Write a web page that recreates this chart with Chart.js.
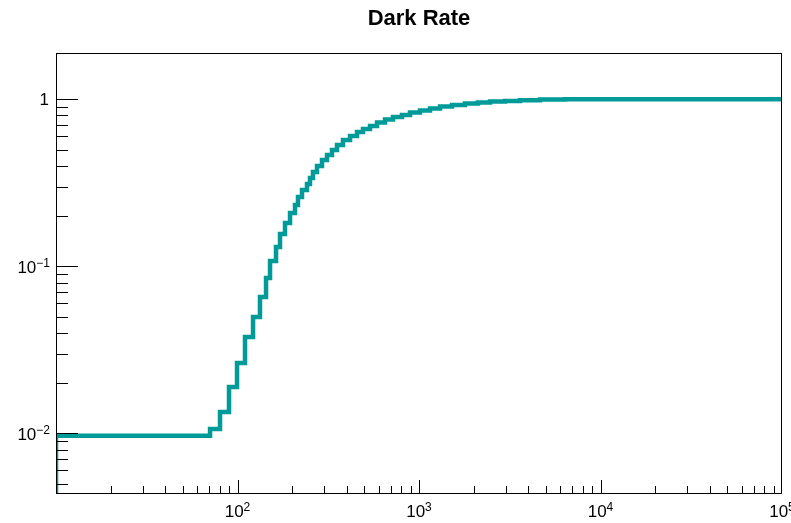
<!DOCTYPE html>
<html>
<head>
<meta charset="utf-8">
<title>Dark Rate</title>
<script src="https://cdn.jsdelivr.net/npm/chart.js@4/dist/chart.umd.min.js"></script>
<style>
    html, body { margin: 0; padding: 0; background: #ffffff; }
    #wrap { width: 791px; height: 523px; }
</style>
</head>
<body>
<div id="wrap">
    <canvas id="darkRateChart" width="791" height="523"></canvas>
</div>
<script>

//Title
const chartTitle = "Dark Rate";

//Histogram bins (lower edge of each bin) and content
const binLow = [
    10, 70.6, 80.1, 89.8, 99.4, 110, 121.8, 133, 143.6, 151.1,
    163, 171.5, 182.7, 194.7, 207.4, 215.4, 226.7, 241.5, 250.8, 260.6,
    274.2, 292.1, 311.3, 331.6, 353.3, 381.3, 416.8, 455.5, 491.4, 537.1,
    587.1, 649.7, 719.1, 805.9, 892.1, 1013, 1150, 1306, 1520, 1792,
    2114, 2462, 2978, 3601, 4642, 6374, 10000
];

const rate = [
    0.00899, 0.0097, 0.01061, 0.01341, 0.01893, 0.02636, 0.03773, 0.04971, 0.06549, 0.08511,
    0.1076, 0.1305, 0.1561, 0.1816, 0.2086, 0.2329, 0.2601, 0.2863, 0.3111, 0.3379,
    0.367, 0.3987, 0.4331, 0.464, 0.4971, 0.5326, 0.5706, 0.6031, 0.6373, 0.6642,
    0.6923, 0.7265, 0.7571, 0.7834, 0.8053, 0.8335, 0.8568, 0.8809, 0.9056, 0.9244,
    0.9437, 0.9568, 0.9701, 0.9768, 0.9863, 0.9945, 1.0
];

//Axis ranges
const xMin = 10;
const xMax = 100000;
const yMin = 0.0044;
const yMax = 1.89;

//Decade labels
const xDecades = [2, 3, 4, 5];
const yDecades = [-2, -1, 0];

//Build the step outline: drop at the first edge, one point per bin, close at the last edge
const points = [{ x: binLow[0], y: yMin }];

binLow.forEach((x, i) => {

    points.push({ x: x, y: rate[i] });

});

points.push({ x: xMax, y: rate[rate.length - 1] });

//Draw 10^n with a raised exponent
function drawPower(ctx, exp, x, y, align) {

    const baseFont = "17px 'Liberation Sans', Arial, sans-serif";
    const expFont = "12px 'Liberation Sans', Arial, sans-serif";

    const expText = exp < 0 ? "\u2212" + Math.abs(exp) : String(exp);

    ctx.font = baseFont;
    const baseW = ctx.measureText("10").width;

    ctx.font = expFont;
    const expW = ctx.measureText(expText).width;

    let left = x;
    if (align === "right") left = x - baseW - expW;
    if (align === "center") left = x - (baseW + expW) / 2;

    ctx.textAlign = "left";
    ctx.textBaseline = "alphabetic";

    ctx.font = baseFont;
    ctx.fillText("10", left, y);

    ctx.font = expFont;
    ctx.fillText(expText, left + baseW, y - 6.5);

}

//Frame, ticks, labels and title
const frameAxes = {

    id: "frameAxes",

    afterDraw(chart) {

        const ctx = chart.ctx;
        const area = chart.chartArea;
        const xs = chart.scales.x;
        const ys = chart.scales.y;

        ctx.save();

        ctx.strokeStyle = "#000000";
        ctx.fillStyle = "#000000";
        ctx.lineWidth = 1;

        //Frame
        ctx.strokeRect(
            Math.round(area.left) + 0.5,
            Math.round(area.top) + 0.5,
            Math.round(area.right - area.left) - 1,
            Math.round(area.bottom - area.top)
        );

        ctx.beginPath();

        //X ticks (inside, from the bottom)
        for (let d = 1; d < 5; d++) {

            for (let m = 1; m <= 9; m++) {

                const v = m * Math.pow(10, d);
                if (v < xMin || v > xMax) continue;

                const px = Math.round(xs.getPixelForValue(v)) + 0.5;
                const len = m === 1 ? 13 : 7;

                ctx.moveTo(px, area.bottom);
                ctx.lineTo(px, area.bottom - len);

            }

        }

        //Y ticks (inside, from the left)
        for (let d = -3; d <= 0; d++) {

            for (let m = 1; m <= 9; m++) {

                const v = m * Math.pow(10, d);
                if (v < yMin || v > yMax) continue;

                const py = Math.round(ys.getPixelForValue(v)) + 0.5;
                const len = m === 1 ? 22 : 12;

                ctx.moveTo(area.left, py);
                ctx.lineTo(area.left + len, py);

            }

        }

        ctx.stroke();

        //X labels
        xDecades.forEach(d => {

            const px = xs.getPixelForValue(Math.pow(10, d));
            drawPower(ctx, d, px, 517, "center");

        });

        //Y labels
        yDecades.forEach(d => {

            const py = ys.getPixelForValue(Math.pow(10, d));

            if (d === 0) {

                ctx.font = "17px 'Liberation Sans', Arial, sans-serif";
                ctx.textAlign = "right";
                ctx.textBaseline = "alphabetic";
                ctx.fillText("1", 49, py + 6);

            } else {

                drawPower(ctx, d, 50, py + 7, "right");

            }

        });

        //Title
        ctx.font = "bold 22px 'Liberation Sans', Arial, sans-serif";
        ctx.textAlign = "center";
        ctx.textBaseline = "alphabetic";
        ctx.fillText(chartTitle, (area.left + area.right) / 2, 25);

        ctx.restore();

    }

};

new Chart(document.querySelector("#darkRateChart"), {

    type: "line",

    data: {

        datasets: [{

            label: chartTitle,

            data: points,

            stepped: "after",

            borderColor: "#009a99",

            borderWidth: 4.5,

            borderCapStyle: "butt",

            borderJoinStyle: "miter",

            pointRadius: 0,

            fill: false,

            clip: 0

        }]

    },

    options: {

        responsive: false,

        animation: false,

        devicePixelRatio: 1,

        layout: {

            padding: { left: 56, top: 53, right: 9, bottom: 30 }

        },

        plugins: {

            legend: { display: false },
            title: { display: false },
            tooltip: { enabled: false }

        },

        scales: {

            x: {

                type: "logarithmic",
                min: xMin,
                max: xMax,
                display: false

            },

            y: {

                type: "logarithmic",
                min: yMin,
                max: yMax,
                display: false

            }

        }

    },

    plugins: [frameAxes]

});

</script>
</body>
</html>
